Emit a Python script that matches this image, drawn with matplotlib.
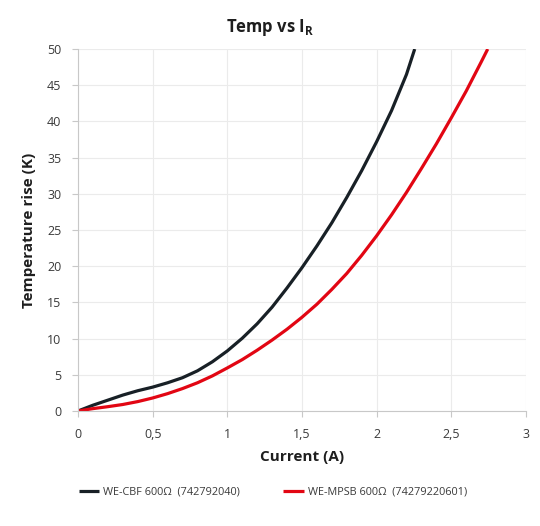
import matplotlib
matplotlib.use("Agg")
import matplotlib.pyplot as plt
from matplotlib.ticker import FuncFormatter

plt.rcParams["font.family"] = ["Open Sans", "DejaVu Sans"]

# values (current in A, temperature rise in K)
cbf_current = [0, 0.1, 0.2, 0.3, 0.4, 0.5, 0.6, 0.7, 0.8, 0.9, 1.0, 1.1, 1.2,
               1.3, 1.4, 1.5, 1.6, 1.7, 1.8, 1.9, 2.0, 2.1, 2.2, 2.255]
cbf_temp = [0, 0.8, 1.5, 2.2, 2.8, 3.3, 3.9, 4.6, 5.55, 6.8, 8.3, 10.05, 12.05,
            14.35, 17.0, 19.8, 22.8, 26.0, 29.5, 33.2, 37.2, 41.5, 46.5, 50]
mpsb_current = [0, 0.1, 0.2, 0.3, 0.4, 0.5, 0.6, 0.7, 0.8, 0.9, 1.0, 1.1, 1.2,
                1.3, 1.4, 1.5, 1.6, 1.7, 1.8, 1.9, 2.0, 2.1, 2.2, 2.3, 2.4,
                2.5, 2.6, 2.7, 2.744]
mpsb_temp = [0, 0.33, 0.6, 0.9, 1.3, 1.8, 2.4, 3.1, 3.9, 4.85, 5.95, 7.1, 8.4,
             9.8, 11.3, 12.95, 14.75, 16.8, 19.0, 21.5, 24.2, 27.1, 30.2, 33.5,
             36.9, 40.5, 44.2, 48.2, 50]
x_ticks = [0, 0.5, 1, 1.5, 2, 2.5, 3]
y_ticks = [0, 5, 10, 15, 20, 25, 30, 35, 40, 45, 50]
labels = ["WE-CBF 600Ω  (742792040)", "WE-MPSB 600Ω  (74279220601)"]

_TEXT, _TICK, _GRID, _AXIS = "#1e1e1e", "#3a3a3a", "#ebebeb", "#c8c8c8"
_BLACK, _RED = "#182026", "#e20613"

fig = plt.figure(figsize=(5.4, 5.26), dpi=100)
ax = fig.add_axes([0.1444, 0.2186, 0.8296, 0.6882])

ax.plot(cbf_current, cbf_temp, color=_BLACK, linewidth=2.3, label=labels[0],
        solid_capstyle="butt", solid_joinstyle="round")
ax.plot(mpsb_current, mpsb_temp, color=_RED, linewidth=2.3, label=labels[1],
        solid_capstyle="butt", solid_joinstyle="round")

ax.set_xlim(0, 3)
ax.set_ylim(0, 50)
ax.set_xticks(x_ticks)
ax.set_yticks(y_ticks)
ax.xaxis.set_major_formatter(FuncFormatter(lambda v, _: f"{v:g}".replace(".", ",")))
ax.tick_params(colors=_AXIS, labelcolor=_TICK, labelsize=9, length=4, width=0.8)
ax.tick_params(axis="x", pad=8)
ax.tick_params(axis="y", pad=8)
ax.grid(True, color=_GRID, linewidth=0.8)
ax.set_axisbelow(True)
for side, sp in ax.spines.items():
    sp.set_visible(side in ("bottom", "left"))
    sp.set_color(_AXIS)

ax.set_xlabel("Current (A)", color=_TEXT, fontsize=11, fontweight="bold", labelpad=7)
ax.set_ylabel("Temperature rise (K)", color=_TEXT, fontsize=11, fontweight="bold",
              labelpad=8)
fig.text(0.5, 0.948, r"Temp vs I$_\mathregular{R}$", ha="center", va="center",
         color=_TEXT, fontsize=12, fontweight="bold")

fig.legend(loc="center left", bbox_to_anchor=(0.128, 0.064), ncol=2, frameon=False,
           fontsize=7.8, handlelength=1.9, handletextpad=0.35, columnspacing=4.0,
           labelcolor=_TICK)

fig.savefig("out.png", dpi=100, facecolor="white")
